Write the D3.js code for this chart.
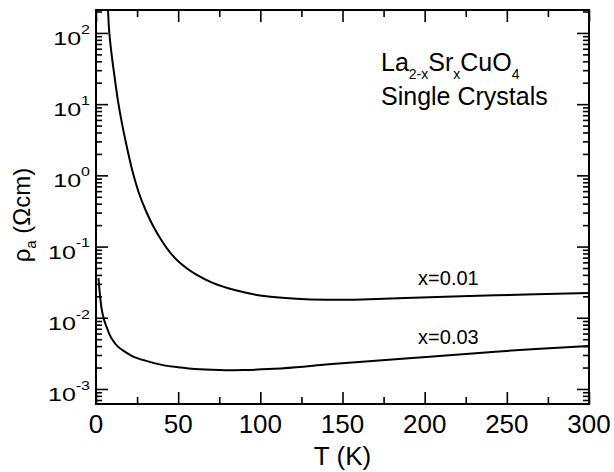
<!DOCTYPE html>
<html>
<head>
<meta charset="utf-8">
<script src="https://cdn.jsdelivr.net/npm/d3@7"></script>
<style>
  body { margin: 0; background: #fff; }
  text { font-family: "Liberation Sans", Arial, sans-serif; fill: #000; }
</style>
</head>
<body>
<script>
// x = 0.01 crystal
const tempX01 = [7.0, 7.3, 8.1, 9.5, 11.2, 13.5, 15.8, 18.3, 22.3, 26, 30.4, 35, 40.6, 45, 50.7, 55, 60.8, 71, 85, 101, 122, 140, 162, 203, 243, 300];
const rhoX01 = [302, 210, 100, 50, 25.1, 10.7, 5.37, 2.82, 1.12, 0.575, 0.316, 0.19, 0.115, 0.083, 0.060, 0.050, 0.0407, 0.0309, 0.0243, 0.0204, 0.0185, 0.0179, 0.0181, 0.0194, 0.0207, 0.0223];

// x = 0.03 crystal
const tempX03 = [1.5, 2.5, 3.5, 5, 6.5, 8, 10, 13, 17, 22, 30, 40, 50, 60, 75, 90, 105, 122, 140, 162, 203, 243, 300];
const rhoX03 = [0.036, 0.02, 0.013, 0.0092, 0.0074, 0.006, 0.0049, 0.0040, 0.0034, 0.0029, 0.0025, 0.00218, 0.00202, 0.0019, 0.00184, 0.00185, 0.0019, 0.00202, 0.0022, 0.00242, 0.00284, 0.00334, 0.00402];

const xTicks = [0, 50, 100, 150, 200, 250, 300];
const xMinorTicks = [25, 75, 125, 175, 225, 275];
const yDecades = [-3, -2, -1, 0, 1, 2];
const seriesNames = ["x=0.01", "x=0.03"];

const W = 614, H = 472;
const margin = {top: 10, right: 25, bottom: 68, left: 96};

const svg = d3.select("body").append("svg")
    .attr("width", W)
    .attr("height", H);

const x = d3.scaleLinear().domain([0, 300]).range([margin.left, W - margin.right]);
const y = d3.scaleLog().domain([6.15e-4, 210]).range([H - margin.bottom, margin.top]);

const majorY = yDecades.map(d => Math.pow(10, d));
const minorY = [];
for (let d = -4; d <= 2; d++) {
    for (let k = 2; k <= 9; k++) {
        const v = k * Math.pow(10, d);
        if (v >= y.domain()[0] && v <= y.domain()[1]) minorY.push(v);
    }
}

// tick marks, all pointing inward
function ticks(axis, vals, size, tx, ty) {
    const g = svg.append("g")
        .attr("transform", `translate(${tx},${ty})`)
        .call(axis.tickValues(vals).tickSize(-size).tickFormat(""));
    g.select(".domain").remove();
    g.selectAll("line").attr("stroke", "#000").attr("stroke-width", 1.6);
    return g;
}
const bottomY = H - margin.bottom, rightX = W - margin.right;
ticks(d3.axisBottom(x), xTicks, 12, 0, bottomY);
ticks(d3.axisBottom(x), xMinorTicks, 7, 0, bottomY);
ticks(d3.axisTop(x), xTicks, 12, 0, margin.top);
ticks(d3.axisTop(x), xMinorTicks, 7, 0, margin.top);
ticks(d3.axisLeft(y), majorY, 12, margin.left, 0);
ticks(d3.axisLeft(y), minorY, 6, margin.left, 0);
ticks(d3.axisRight(y), majorY, 12, rightX, 0);
ticks(d3.axisRight(y), minorY, 6, rightX, 0);

// x tick labels
svg.append("g").selectAll("text")
    .data(xTicks)
    .join("text")
    .attr("x", d => x(d))
    .attr("y", bottomY + 29)
    .attr("text-anchor", "middle")
    .attr("font-size", 26)
    .text(d => d);

// y tick labels: 10 with superscript exponent (squashed like the original)
const yl = svg.append("g").selectAll("text")
    .data(yDecades)
    .join("text")
    .attr("text-anchor", "end")
    .attr("transform", d => `translate(${margin.left - 6},${y(Math.pow(10, d))}) scale(1,0.75)`);
yl.append("tspan").attr("x", 0).attr("y", 16).attr("font-size", 25).text("10");
yl.append("tspan").attr("dy", -15).attr("font-size", 16).text(d => d);

// frame
svg.append("rect")
    .attr("x", margin.left).attr("y", margin.top)
    .attr("width", rightX - margin.left)
    .attr("height", bottomY - margin.top)
    .attr("fill", "none").attr("stroke", "#000").attr("stroke-width", 2);

svg.append("clipPath").attr("id", "clip")
    .append("rect")
    .attr("x", margin.left).attr("y", margin.top)
    .attr("width", rightX - margin.left)
    .attr("height", bottomY - margin.top);

const line = d3.line()
    .x(d => x(d[0]))
    .y(d => y(d[1]))
    .curve(d3.curveCatmullRom.alpha(0.5));

const series = [d3.zip(tempX01, rhoX01), d3.zip(tempX03, rhoX03)];
svg.append("g").attr("clip-path", "url(#clip)")
    .selectAll("path")
    .data(series)
    .join("path")
    .attr("d", line)
    .attr("fill", "none")
    .attr("stroke", "#000")
    .attr("stroke-width", 2);

// curve labels
const labelAt = [[196, 0.029], [196, 0.00428]];
svg.append("g").selectAll("text")
    .data(seriesNames)
    .join("text")
    .attr("x", (d, i) => x(labelAt[i][0]))
    .attr("y", (d, i) => y(labelAt[i][1]))
    .attr("font-size", 20)
    .text(d => d);

// axis titles
svg.append("text")
    .attr("x", (margin.left + rightX) / 2)
    .attr("y", 465)
    .attr("text-anchor", "middle")
    .attr("font-size", 26)
    .text("T (K)");

const yt = svg.append("text")
    .attr("transform", "translate(30,215) rotate(-90)")
    .attr("text-anchor", "middle")
    .attr("font-size", 24);
yt.append("tspan").text("ρ");
yt.append("tspan").attr("font-size", 15).attr("dy", 6).text("a");
yt.append("tspan").attr("dy", -6).text(" (Ωcm)");

// compound annotation
const ann = svg.append("text")
    .attr("x", 381).attr("y", 71)
    .attr("font-size", 25);
ann.append("tspan").text("La");
ann.append("tspan").attr("font-size", 14).attr("dy", 8).text("2-x");
ann.append("tspan").attr("dy", -8).text("Sr");
ann.append("tspan").attr("font-size", 14).attr("dy", 8).text("x");
ann.append("tspan").attr("dy", -8).text("CuO");
ann.append("tspan").attr("font-size", 14).attr("dy", 8).text("4");

svg.append("text")
    .attr("x", 381).attr("y", 105)
    .attr("font-size", 25)
    .text("Single Crystals");
</script>
</body>
</html>
